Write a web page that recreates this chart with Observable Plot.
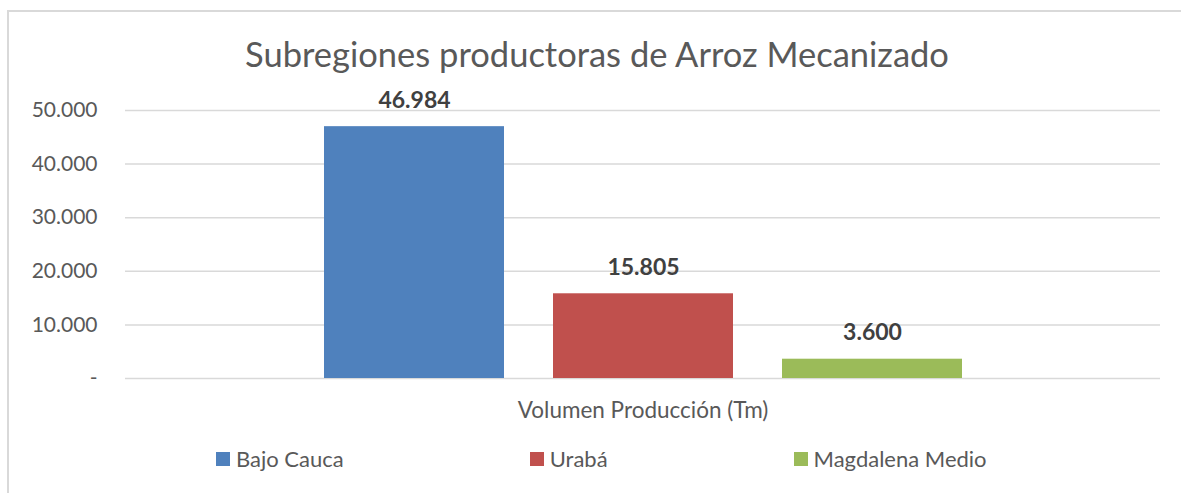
<!DOCTYPE html>
<html>
<head>
<meta charset="utf-8">
<script src="https://cdn.jsdelivr.net/npm/d3@7"></script>
<script src="https://cdn.jsdelivr.net/npm/@observablehq/plot@0.6"></script>
<style>
  html, body { margin: 0; padding: 0; background: #fff; overflow: hidden; width: 100%; height: 100%; }
  #wrap { position: relative; width: 100vw; height: 100vh; overflow: hidden; font-family: Lato, "Open Sans", sans-serif; }
  #frameTop { position: absolute; left: 7px; top: 10px; right: 0; height: 2px; background: #d9d9d9; }
  #frameLeft { position: absolute; left: 7px; top: 10px; bottom: 0; width: 2px; background: #d9d9d9; }
  #title { position: absolute; left: 0; top: 33px; width: 1194px; text-align: center; font-size: 34.5px; line-height: 1.2; color: #595959; white-space: nowrap; }
  #chart { position: absolute; left: 0; top: 0; }
  #legend { position: absolute; left: 216px; top: 446px; display: flex; align-items: center; gap: 186px; font-size: 22px; line-height: 1.2; color: #595959; white-space: nowrap; }
  .item { display: flex; align-items: center; }
  .sw { width: 14px; height: 14px; margin-right: 6px; }
</style>
</head>
<body>
<div id="wrap">
  <div id="frameTop"></div>
  <div id="frameLeft"></div>
  <div id="chart"></div>
  <div id="title"></div>
  <div id="legend"></div>
</div>
<script>
const title = "Subregiones productoras de Arroz Mecanizado";
const groupLabel = "Volumen Producción (Tm)";
const categories = ["Bajo Cauca", "Urabá", "Magdalena Medio"];
const values = [46984, 15805, 3600];
const colors = ["#4f81bd", "#c0504d", "#9bbb59"];
const yTicks = [0, 10000, 20000, 30000, 40000, 50000];

const locale = d3.formatLocale({decimal: ",", thousands: ".", grouping: [3], currency: ["", ""]});
const fmt = locale.format(",");
const tickFmt = d => d === 0 ? "-" : fmt(d);

const data = categories.map((name, i) => ({name, value: values[i]}));

const chart = Plot.plot({
  width: 1181,
  height: 493,
  marginTop: 110,
  marginBottom: 115,
  marginLeft: 125,
  marginRight: 21,
  style: {fontFamily: "Lato, 'Open Sans', sans-serif", fontSize: "21px", color: "#595959", background: "transparent"},
  x: {type: "band", domain: categories, range: [298.5, 987.5], paddingInner: 0.213, paddingOuter: 0.1065, axis: null},
  y: {domain: [0, 50000], axis: null},
  color: {domain: categories, range: colors},
  marks: [
    Plot.ruleY(yTicks, {stroke: "#d9d9d9", strokeWidth: 1.5}),
    Plot.barY(data, {x: "name", y: "value", fill: "name"}),
    Plot.text(data, {x: "name", y: "value", text: d => fmt(d.value), dy: -19, lineAnchor: "bottom", fontWeight: "bold", fontSize: 23, fill: "#404040"}),
    Plot.axisY(yTicks, {tickSize: 0, tickPadding: 28, tickFormat: tickFmt, fontSize: 21, label: null}),
    Plot.text([groupLabel], {frameAnchor: "bottom", lineAnchor: "bottom", dy: 39, text: d => d, fontSize: 22.5, fill: "#595959"})
  ]
});
document.getElementById("chart").appendChild(chart);

document.getElementById("title").textContent = title;

const legend = d3.select("#legend");
categories.forEach((c, i) => {
  const it = legend.append("div").attr("class", "item");
  it.append("div").attr("class", "sw").style("background", colors[i]);
  it.append("span").text(c);
});
</script>
</body>
</html>
